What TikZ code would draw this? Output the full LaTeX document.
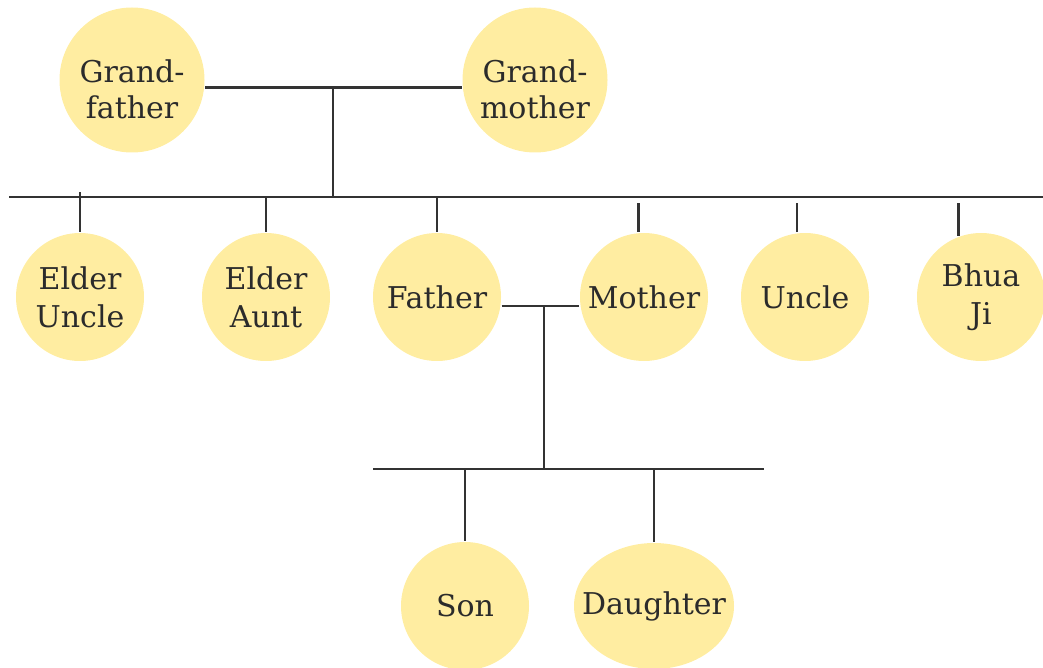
\documentclass[tikz,border=0pt]{standalone}
\usepackage{fontspec}
\setmainfont{DejaVu Serif}
\usetikzlibrary{shapes.geometric}
\definecolor{famfill}{HTML}{FFEDA1}
\definecolor{famline}{HTML}{333333}
\definecolor{famtext}{HTML}{2B2B2B}

\begin{document}
\begin{tikzpicture}[x=0.5pt, y=-0.5pt, line width=1.25pt, color=famline,
    names/.style={align=center, text=famtext, inner sep=0pt, font=\fontsize{15}{18}\selectfont},
    person/.style={circle, fill=famfill, names},
    big/.style={person, minimum size=72.5pt, label={[names, yshift=-4.5pt]center:{#1}}},
    small/.style={person, minimum size=64pt, font=\fontsize{15}{19}\selectfont}]
  \useasboundingbox (0,0) rectangle (1043,668);
  % grandparents
  \node[big={Grand-\\father}] (gf) at (132,80) {};
  \node[big={Grand-\\mother}] (gm) at (535,80) {};
  \coordinate (gpjoin) at (333,87);
  \coordinate (sibL) at (9,197);
  \coordinate (sibR) at (1043,197);
  \coordinate (gap) at (0,203);
  \draw (gf.-6) -- (gm.186);
  \draw (gpjoin) -- (gpjoin |- sibL);
  \draw (sibL) -- (sibR);
  % their children
  \node[small] (eu) at (80,297) {Elder\\Uncle};
  \node[small] (ea) at (266,297) {Elder\\Aunt};
  \node[small] (fa) at (437,297) {Father};
  \node[small] (mo) at (644,297) {Mother};
  \node[small] (un) at (805,297) {Uncle};
  \node[small] (bj) at (981,297) {Bhua\\Ji};
  \draw (eu.north) -- ++(0,-40);
  \foreach \p in {ea,fa}
    \draw (\p.north) -- (\p.north |- sibL);
  \foreach \p/\a in {mo/95,un/97,bj/110}
    \draw (\p.\a) -- (\p.\a |- gap);
  % parents and grandchildren
  \coordinate (pjoin) at (544,306);
  \coordinate (kidL) at (373,469);
  \coordinate (kidR) at (764,469);
  \draw (fa.-8) -- (mo.188);
  \draw (pjoin) -- (pjoin |- kidL);
  \draw (kidL) -- (kidR);
  \node[small] (so) at (465,606) {Son};
  \node[small, ellipse, inner xsep=-8.5pt, minimum width=80pt, minimum height=63pt] (da) at (654,606) {Daughter};
  \foreach \p in {so,da}
    \draw (\p.north) -- (\p.north |- kidL);
\end{tikzpicture}
\end{document}
